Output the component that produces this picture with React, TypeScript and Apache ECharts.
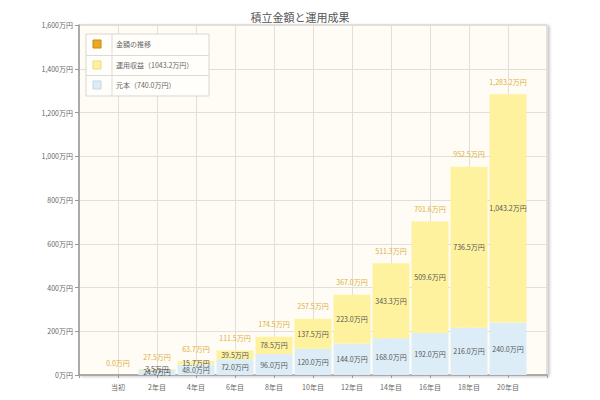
import React, { useEffect, useRef } from "react";
import * as echarts from "echarts";

const categories = ["当初", "2年目", "4年目", "6年目", "8年目", "10年目", "12年目", "14年目", "16年目", "18年目", "20年目"];
const principal = [0, 24, 48, 72, 96, 120, 144, 168, 192, 216, 240];
const gains = [0, 3.5, 15.7, 39.5, 78.5, 137.5, 223.0, 343.3, 509.6, 736.5, 1043.2];
const totals = [0, 27.5, 63.7, 111.5, 174.5, 257.5, 367.0, 511.3, 701.6, 952.5, 1283.2];
const legendNames = ["金額の推移", "運用収益（1043.2万円）", "元本（740.0万円）"];
const legendColors = ["#E9A826", "#FFF29E", "#DDEDF7"];
const legendBorders = ["#C98A10", "#EADB80", "#C4D7E4"];

const FONT = "'Noto Sans CJK JP', 'Noto Sans', sans-serif";
const fmt = (v: number) =>
  v.toLocaleString("en-US", { minimumFractionDigits: 1, maximumFractionDigits: 1 }) + "万円";

export default function App() {
  const ref = useRef<HTMLDivElement>(null);
  useEffect(() => {
    if (!ref.current) return;
    const chart = echarts.init(ref.current, undefined, { renderer: "svg" });
    const pad = (arr: number[]) => ["-", ...arr, "-"];
    const cats = ["", ...categories, ""];
    const rowY = [44, 65, 85];
    const legendGraphics: any[] = [
      { type: "rect", shape: { x: 86, y: 34, width: 123, height: 62 }, style: { fill: "#fffefb", stroke: "#d8d6d0", lineWidth: 1 }, z: 10 },
      { type: "line", shape: { x1: 112, y1: 34, x2: 112, y2: 96 }, style: { stroke: "#dcdad4", lineWidth: 1 }, z: 11 },
      { type: "line", shape: { x1: 86, y1: 55.5, x2: 209, y2: 55.5 }, style: { stroke: "#dcdad4", lineWidth: 1 }, z: 11 },
      { type: "line", shape: { x1: 86, y1: 75.5, x2: 209, y2: 75.5 }, style: { stroke: "#dcdad4", lineWidth: 1 }, z: 11 },
    ];
    legendNames.forEach((n, i) => {
      legendGraphics.push({
        type: "rect",
        shape: { x: 93, y: rowY[i] - 4, width: 8, height: 8 },
        style: { fill: legendColors[i], stroke: legendBorders[i], lineWidth: 1 },
        z: 12,
      });
      legendGraphics.push({
        type: "text",
        x: 116,
        y: rowY[i],
        style: { text: n, fill: "#666", font: `7px ${FONT}`, verticalAlign: "middle", align: "left" },
        z: 12,
      });
    });
    const innerLabel = {
      show: true,
      position: "inside",
      color: "#555",
      fontSize: 7,
      fontFamily: FONT,
      formatter: (p: any) => (p.value && p.value !== "-" && p.value !== 0 ? fmt(p.value) : ""),
    };
    chart.setOption({
      animation: false,
      backgroundColor: "#ffffff",
      textStyle: { fontFamily: FONT },
      title: {
        text: "積立金額と運用成果",
        left: "center",
        top: 6,
        textStyle: { fontSize: 11, fontWeight: "normal", color: "#555", fontFamily: FONT },
      },
      grid: {
        left: 79,
        right: 53,
        top: 25,
        bottom: 25,
        show: true,
        backgroundColor: "#FEFCF4",
        borderColor: "#c8c8c8",
        borderWidth: 1,
        shadowColor: "rgba(0,0,0,0.25)",
        shadowBlur: 3,
        shadowOffsetX: 2,
        shadowOffsetY: 1,
      },
      xAxis: {
        type: "category",
        data: cats,
        boundaryGap: false,
        axisLine: { lineStyle: { color: "#999", width: 1.5 } },
        axisTick: { show: true, length: 3, lineStyle: { color: "#999" } },
        axisLabel: { color: "#666", fontSize: 7, fontFamily: FONT, margin: 8, interval: 0 },
        splitLine: { show: true, lineStyle: { color: "#e2dfd8", width: 1 } },
      },
      yAxis: {
        type: "value",
        min: 0,
        max: 1600,
        interval: 200,
        axisLine: { show: true, lineStyle: { color: "#999", width: 1.5 } },
        axisTick: { show: true, length: 4, lineStyle: { color: "#999" } },
        axisLabel: {
          color: "#666",
          fontSize: 7,
          fontFamily: FONT,
          margin: 6,
          formatter: (v: number) => v.toLocaleString("en-US") + "万円",
        },
        splitLine: { show: true, lineStyle: { color: "#e2dfd8", width: 1 } },
      },
      series: [
        {
          name: "元本（740.0万円）",
          type: "bar",
          stack: "total",
          data: pad(principal),
          barWidth: 37,
          itemStyle: { color: "#DDEDF7" },
          label: innerLabel,
        },
        {
          name: "運用収益（1043.2万円）",
          type: "bar",
          stack: "total",
          data: pad(gains),
          barWidth: 37,
          itemStyle: { color: "#FFF29E" },
          label: innerLabel,
        },
        {
          name: "金額の推移",
          type: "line",
          data: pad(totals),
          symbol: "circle",
          symbolSize: 2,
          showSymbol: true,
          showAllSymbol: true,
          itemStyle: { color: "rgba(0,0,0,0)" },
          lineStyle: { color: "rgba(0,0,0,0)", width: 0 },
          label: {
            show: true,
            position: "top",
            distance: 8,
            color: "#E0AE3C",
            fontSize: 7,
            fontFamily: FONT,
            formatter: (p: any) => fmt(p.value),
          },
          z: 5,
        },
      ],
      graphic: legendGraphics,
    });
    return () => chart.dispose();
  }, []);
  return <div ref={ref} style={{ width: 600, height: 400, margin: -8 }} />;
}
